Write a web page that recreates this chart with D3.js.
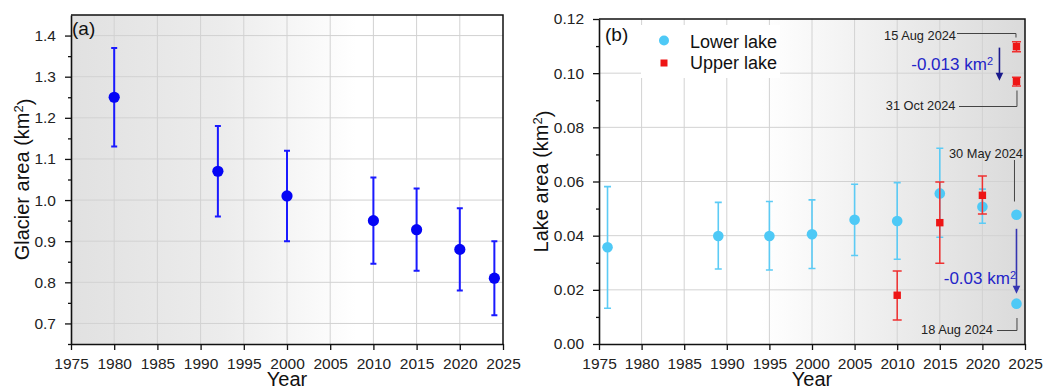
<!DOCTYPE html>
<html><head><meta charset="utf-8">
<script src="https://cdn.jsdelivr.net/npm/d3@7"></script>
<style>
html,body{margin:0;padding:0;background:#fff;}
svg{display:block;font-family:"Liberation Sans",Arial,sans-serif;}
</style></head>
<body>
<svg id="chart" width="1043" height="388"></svg>
<script>
// ---------- data ----------
const xTickYears = [1975,1980,1985,1990,1995,2000,2005,2010,2015,2020,2025];
// Panel (a): glacier area
const glacierYears = [1980,1992,2000,2010,2015,2020,2024];
const glacierArea  = [1.25,1.07,1.01,0.95,0.928,0.88,0.81];
const glacierLow   = [1.13,0.96,0.90,0.845,0.828,0.78,0.72];
const glacierHigh  = [1.37,1.18,1.12,1.055,1.028,0.98,0.90];
const glacierTicks = [0.7,0.8,0.9,1.0,1.1,1.2,1.3,1.4];
// Panel (b): lake areas
const lowerYears = [1976,1989,1995,2000,2005,2010,2015,2020,2024,2024];
const lowerArea  = [0.0357,0.0399,0.0399,0.0405,0.0459,0.0454,0.0556,0.0507,0.0477,0.0149];
const lowerLow   = [0.0132,0.0277,0.0273,0.0279,0.0327,0.0313,0.0394,0.0446,null,null];
const lowerHigh  = [0.0581,0.0523,0.0526,0.0532,0.0590,0.0596,0.0723,0.0572,null,null];
const upperYears = [2010,2015,2020,2024,2024];
const upperArea  = [0.018,0.0448,0.0549,0.1098,0.097];
const upperLow   = [0.0089,0.0298,0.048,0.1079,0.0953];
const upperHigh  = [0.027,0.0598,0.062,0.1116,0.0985];
const lakeTicks  = [0,0.02,0.04,0.06,0.08,0.10,0.12];
const legendLabels = ["Lower lake","Upper lake"];

const svg = d3.select("#chart");
const defs = svg.append("defs");
const FONT_TICK = 15.5;

function gradient(id, stops){
  const g = defs.append("linearGradient").attr("id",id).attr("x1","0").attr("x2","1").attr("y1","0").attr("y2","0");
  stops.forEach(s=>g.append("stop").attr("offset",s[0]).attr("stop-color",s[1]));
}
gradient("gA",[[0,"#e1e1e1"],[0.35,"#ececec"],[0.66,"#ffffff"],[1,"#ffffff"]]);
gradient("gB",[[0,"#ffffff"],[0.38,"#ffffff"],[1,"#dadada"]]);

function panel(cfg){
  const {x,y,grad,yTicks,yMinor,yFmt,label,tag,tagPos} = cfg;
  const [x0,x1] = x.range(); const [y0,y1] = y.range();
  const g = svg.append("g");
  g.append("rect").attr("x",x0).attr("y",y1).attr("width",x1-x0).attr("height",y0-y1).attr("fill",`url(#${grad})`);
  // grid
  g.selectAll(".vg").data(xTickYears.slice(1,-1)).join("line")
    .attr("x1",d=>x(d)).attr("x2",d=>x(d)).attr("y1",y0).attr("y2",y1)
    .attr("stroke","#d2d2d2").attr("stroke-width",1);
  g.selectAll(".hg").data(yTicks.filter(t=>y(t)>y1+1 && y(t)<y0-1)).join("line")
    .attr("y1",d=>y(d)).attr("y2",d=>y(d)).attr("x1",x0).attr("x2",x1)
    .attr("stroke","#d2d2d2").attr("stroke-width",1);
  // frame top/right
  g.append("path").attr("d",`M${x0},${y1}H${x1}V${y0}`).attr("fill","none").attr("stroke","#111").attr("stroke-width",1.5);
  // axes
  g.append("g").attr("transform",`translate(0,${y0})`)
    .call(d3.axisBottom(x).tickValues(xTickYears).tickFormat(d3.format("d")).tickSize(6).tickPadding(8).tickSizeOuter(0));
  g.append("g").attr("transform",`translate(${x0},0)`)
    .call(d3.axisLeft(y).tickValues(yTicks).tickFormat(d3.format(yFmt)).tickSize(6).tickPadding(9).tickSizeOuter(0));
  g.append("g").attr("transform",`translate(${x0},0)`)
    .call(d3.axisLeft(y).tickValues(yMinor).tickFormat("").tickSize(3).tickSizeOuter(0))
    .select(".domain").remove();
  g.selectAll(".tick line").attr("stroke","#111").attr("stroke-width",1.3);
  g.selectAll(".domain").attr("stroke","#111").attr("stroke-width",1.6);
  g.selectAll(".tick text").attr("font-size",FONT_TICK).attr("fill","#222").attr("font-family","Liberation Sans, Arial, sans-serif");
  // axis titles
  g.append("text").attr("x",(x0+x1)/2).attr("y",386).attr("text-anchor","middle")
    .attr("font-size",20).attr("fill","#111").text("Year");
  const yl = g.append("text").attr("transform",`translate(${label.x},${(y0+y1)/2}) rotate(-90)`)
    .attr("text-anchor","middle").attr("font-size",20).attr("fill","#111");
  yl.append("tspan").text(label.text+" (km");
  yl.append("tspan").attr("dy","-0.45em").attr("font-size",13).text("2");
  yl.append("tspan").attr("dy","0.45em").text(")");
  g.append("text").attr("x",tagPos[0]).attr("y",tagPos[1]).attr("font-size",19).attr("fill","#111").text(tag);
  return g;
}

function errorBars(g, x, y, xs, lo, hi, color, cap, w){
  const idx = xs.map((d,i)=>i).filter(i=>lo[i]!=null);
  g.selectAll(null).data(idx).join("path")
    .attr("d",i=>{const X=x(xs[i]),a=y(lo[i]),b=y(hi[i]);
      return `M${X},${a}V${b}M${X-cap},${a}H${X+cap}M${X-cap},${b}H${X+cap}`;})
    .attr("fill","none").attr("stroke",color).attr("stroke-width",w);
}

// ---------- Panel (a) ----------
const xA = d3.scaleLinear().domain([1975,2025]).range([71,503]);
const yA = d3.scaleLinear().domain([0.65,1.45]).range([344,15]);
const gA = panel({x:xA,y:yA,grad:"gA",yTicks:glacierTicks,
  yMinor:d3.range(0.65,1.45,0.1).map(v=>+v.toFixed(2)), yFmt:".1f",
  label:{x:29,text:"Glacier area"}, tag:"(a)", tagPos:[72,35]});
errorBars(gA,xA,yA,glacierYears,glacierLow,glacierHigh,"#1a1aff",3,2);
gA.selectAll(".ga").data(glacierYears).join("circle")
  .attr("cx",d=>xA(d)).attr("cy",(d,i)=>yA(glacierArea[i])).attr("r",5.6).attr("fill","#0505f5");

// ---------- Panel (b) ----------
const xB = d3.scaleLinear().domain([1975,2025]).range([599,1025]);
const yB = d3.scaleLinear().domain([0,0.12]).range([344,19]);
const gB = panel({x:xB,y:yB,grad:"gB",yTicks:lakeTicks,
  yMinor:d3.range(0.01,0.12,0.02).map(v=>+v.toFixed(3)), yFmt:".2f",
  label:{x:548,text:"Lake area"}, tag:"(b)", tagPos:[605,41]});
const LBLUE="#4ec9f6", RED="#ee1515";
errorBars(gB,xB,yB,lowerYears,lowerLow,lowerHigh,"#5ccbf5",3.5,1.6);
gB.selectAll(".lw").data(lowerYears).join("circle")
  .attr("cx",d=>xB(d)).attr("cy",(d,i)=>yB(lowerArea[i])).attr("r",5.3).attr("fill",LBLUE);
errorBars(gB,xB,yB,upperYears,upperLow,upperHigh,"#ef3030",4.5,1.5);
gB.selectAll(".up").data(upperYears).join("rect")
  .attr("x",d=>xB(d)-3.7).attr("y",(d,i)=>yB(upperArea[i])-3.7).attr("width",7.4).attr("height",7.4).attr("fill",RED);

// legend
const lg = gB.append("g");
lg.append("rect").attr("x",641).attr("y",25).attr("width",139).attr("height",53).attr("fill","#fff");
lg.append("circle").attr("cx",664).attr("cy",40.5).attr("r",5).attr("fill",LBLUE);
lg.append("rect").attr("x",660.5).attr("y",59.5).attr("width",7).attr("height",7).attr("fill",RED);
lg.selectAll("text").data(legendLabels).join("text")
  .attr("x",690).attr("y",(d,i)=>47.5+i*21.8).attr("font-size",18).attr("fill","#111").text(d=>d);

// annotations
const ann = gB.append("g");
const X24 = xB(2024);
function dateLabel(t, xEnd, yBase){
  ann.append("text").attr("x",xEnd).attr("y",yBase).attr("text-anchor","end")
    .attr("font-size",12.8).attr("fill","#222").text(t);
}
function leader(d){ ann.append("path").attr("d",d).attr("fill","none").attr("stroke","#444").attr("stroke-width",1); }
dateLabel("15 Aug 2024",956,40);
leader(`M957,33.5H${X24-0.5}V37.5`);
dateLabel("31 Oct 2024",955.5,110);
leader(`M959,106.5H${X24+0.5}V90.5`);
dateLabel("30 May 2024",1023,158);
leader(`M${X24-2},160V201.5`);
dateLabel("18 Aug 2024",993,334);
leader(`M997,330.5H${X24+0.5}V318`);

function arrow(xp, ya, yb, color){
  ann.append("line").attr("x1",xp).attr("x2",xp).attr("y1",ya).attr("y2",yb-7)
    .attr("stroke",color).attr("stroke-width",1.6);
  ann.append("path").attr("d",`M${xp-3.8},${yb-8}L${xp+3.8},${yb-8}L${xp},${yb}Z`).attr("fill",color);
}
arrow(xB(2022),yB(upperArea[3])+1,yB(upperArea[4])-0.5,"#1a1a8c");
arrow(X24,yB(lowerArea[8])+14,yB(lowerArea[9])-10,"#3535b0");

function kmText(t, xEnd, yBase){
  const tx = ann.append("text").attr("x",xEnd).attr("y",yBase).attr("text-anchor","end")
    .attr("font-size",17).attr("fill","#2424c8");
  tx.append("tspan").text(t+" km");
  tx.append("tspan").attr("dy","-0.45em").attr("font-size",11).text("2");
}
kmText("-0.013",993,69.5);
kmText("-0.03",1016,284);
</script>
</body></html>
